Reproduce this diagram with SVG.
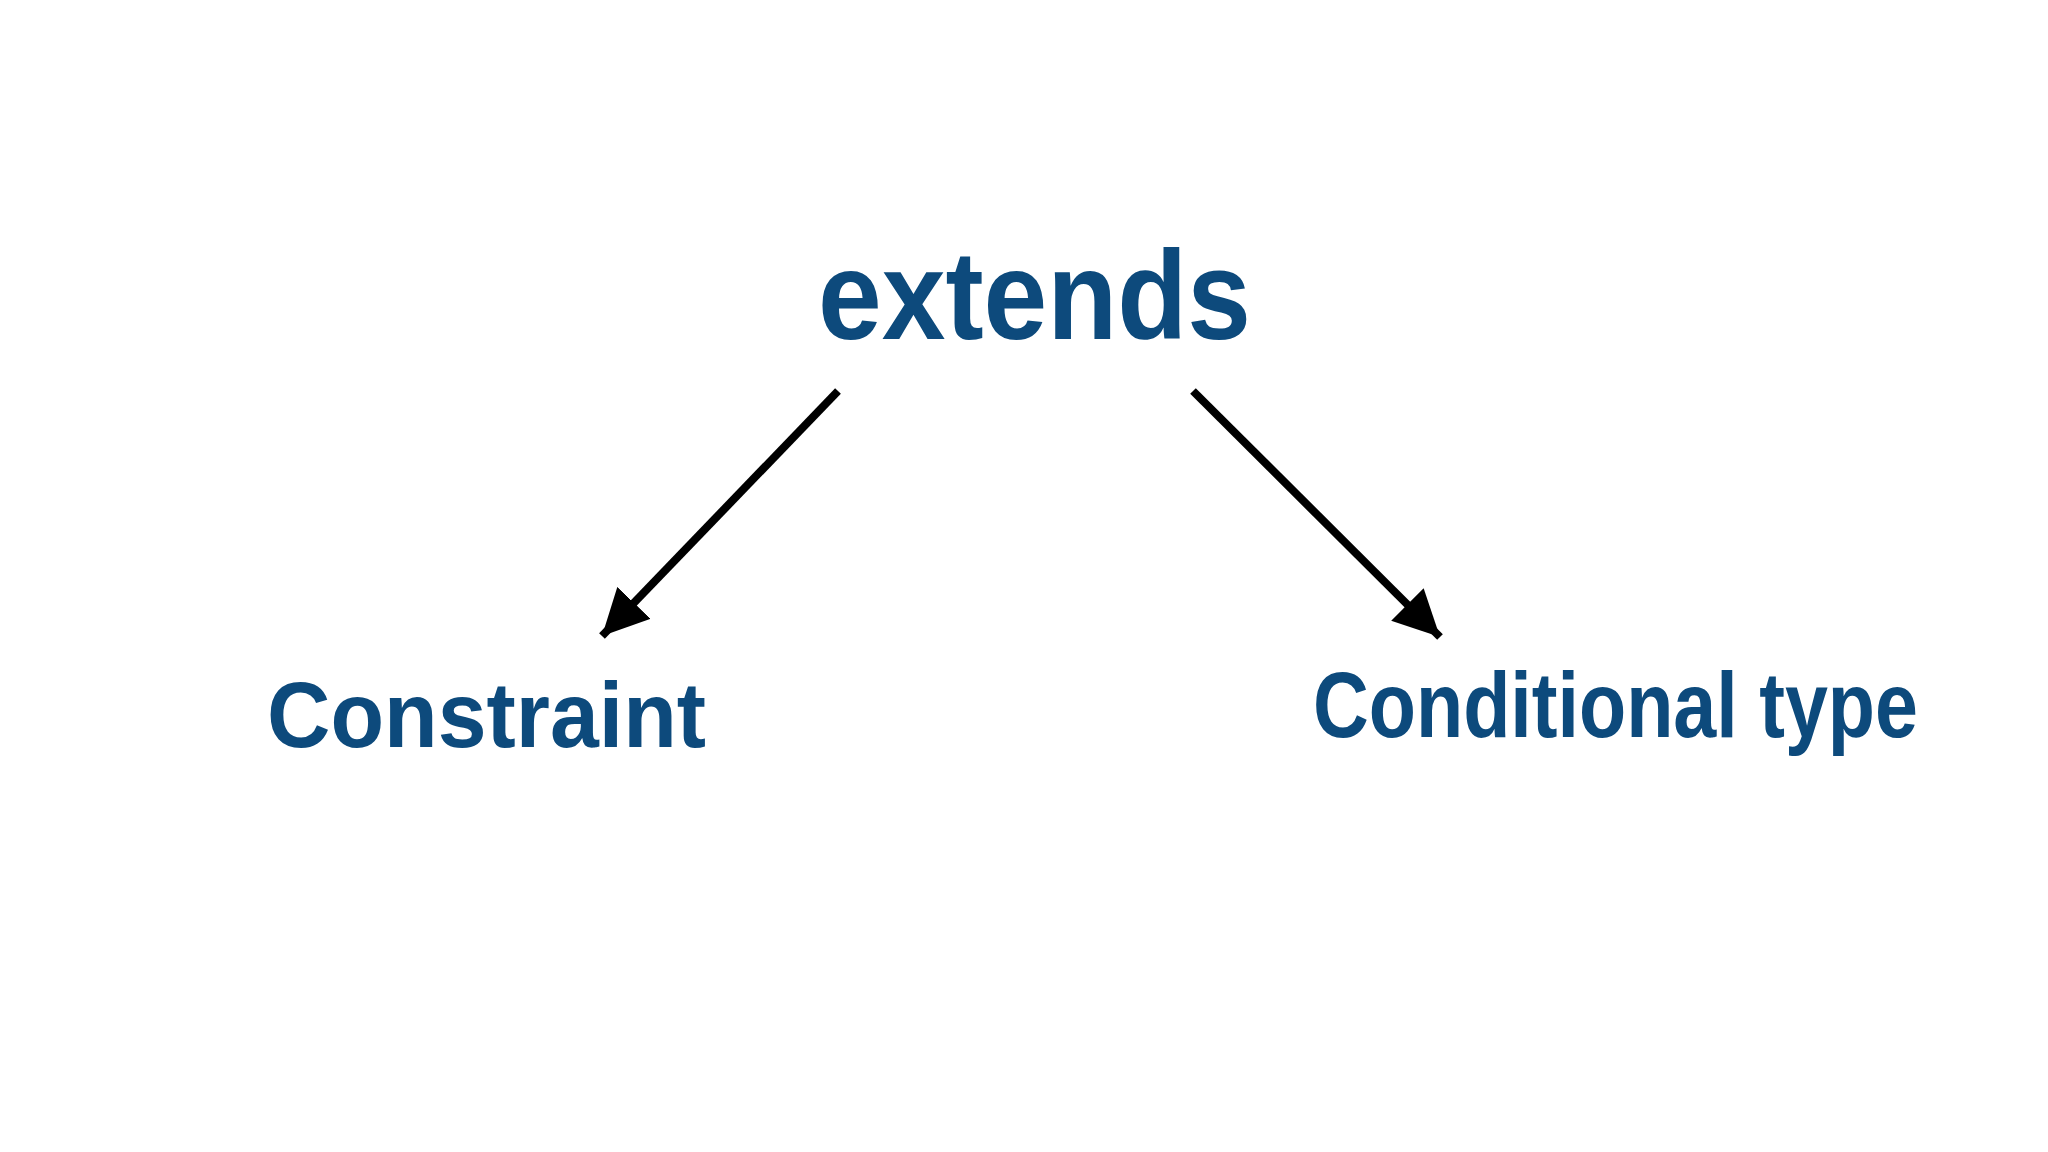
<svg xmlns="http://www.w3.org/2000/svg" width="2048" height="1152" viewBox="0 0 2048 1152">
<style>
.t{font-family:"Liberation Sans",Arial,sans-serif;font-weight:bold;fill:#0d4a7c}
.c{stroke:#000;stroke-width:8;fill:none}
</style>
<defs>
<marker id="ah" markerUnits="userSpaceOnUse" markerWidth="50" markerHeight="46" refX="46" refY="23" orient="auto">
<path d="M0,0 L46,23 L0,46 Z" fill="#000"/>
</marker>
</defs>
<rect width="2048" height="1152" fill="#fff"/>
<g id="extends"><text class="t" x="818" y="339" font-size="126" textLength="433" lengthAdjust="spacingAndGlyphs">extends</text></g>
<g id="constraint"><text class="t" x="267" y="747" font-size="92" textLength="439" lengthAdjust="spacingAndGlyphs">Constraint</text></g>
<g id="conditional"><text class="t" x="1313" y="737" font-size="92" textLength="605" lengthAdjust="spacingAndGlyphs">Conditional type</text></g>
<g id="connectors">
<line class="c" x1="838" y1="391" x2="602" y2="636" marker-end="url(#ah)"/>
<line class="c" x1="1193" y1="391" x2="1440" y2="637" marker-end="url(#ah)"/>
</g>
</svg>
